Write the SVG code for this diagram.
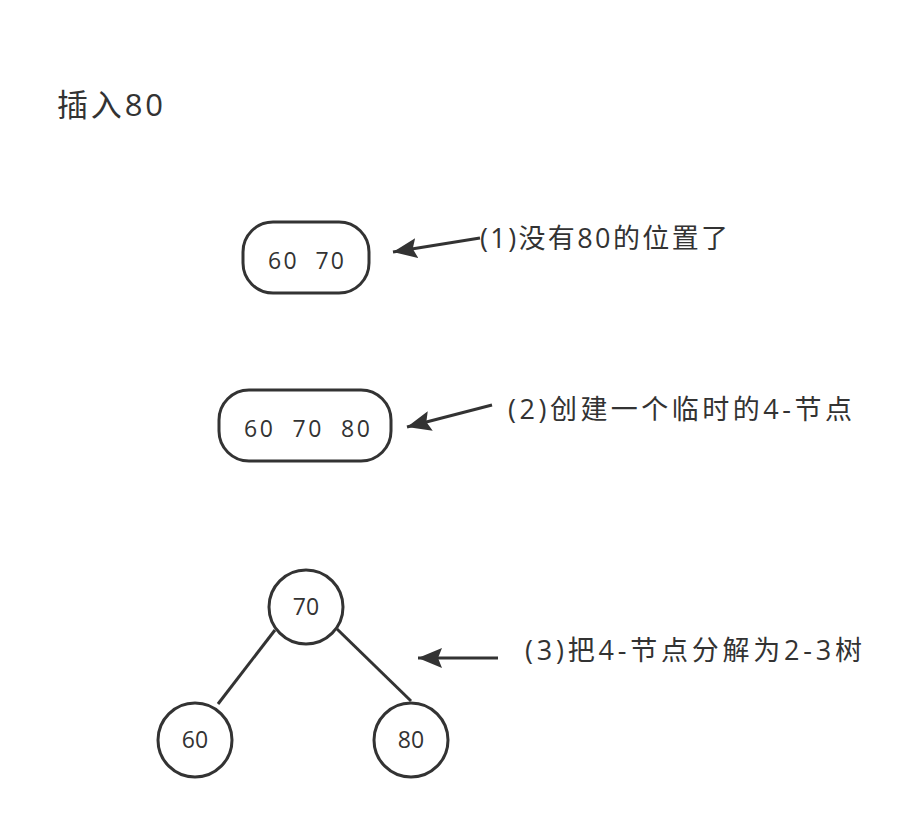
<svg xmlns="http://www.w3.org/2000/svg" width="923" height="825" viewBox="0 0 923 825">
<style>
text{font-family:"Open Sans","Noto Sans CJK SC",sans-serif;fill:#333;white-space:pre}
.n{fill:#fff;stroke:#333;stroke-width:3}
.t{font-size:23px;text-anchor:middle}
.l{font-size:27px}
.c{stroke:#333;stroke-width:3;fill:none}
</style>
<defs>
<marker id="a" viewBox="0 0 24 20" refX="24" refY="10" markerWidth="24" markerHeight="20" orient="auto" markerUnits="userSpaceOnUse">
<path d="M0,0 L24,10 L0,20 L4,10 Z" fill="#333"/>
</marker>
</defs>
<rect width="923" height="825" fill="#fff"/>
<text x="57" y="116" style="font-size:31px" textLength="106" lengthAdjust="spacing">插入80</text>
<g id="connectors">
<line class="c" x1="480" y1="238" x2="393" y2="252" marker-end="url(#a)"/>
<line class="c" x1="492" y1="405" x2="407" y2="427" marker-end="url(#a)"/>
<line class="c" x1="498" y1="658" x2="418" y2="658" marker-end="url(#a)"/>
<line class="c" x1="275" y1="630" x2="218" y2="704"/>
<line class="c" x1="337" y1="629" x2="411" y2="701"/>
</g>
<g id="node1">
<rect class="n" x="243" y="222" width="126" height="71" rx="30"/>
<text class="t" x="306" y="269" textLength="76" lengthAdjust="spacing">60  70</text>
</g>
<g id="node2">
<rect class="n" x="219" y="390" width="172" height="71" rx="30"/>
<text class="t" x="307" y="437" textLength="126" lengthAdjust="spacing">60  70  80</text>
</g>
<g id="node70">
<ellipse class="n" cx="306" cy="607" rx="37" ry="37"/>
<text class="t" x="306" y="615">70</text>
</g>
<g id="node60">
<ellipse class="n" cx="195" cy="740" rx="37" ry="37"/>
<text class="t" x="195" y="748">60</text>
</g>
<g id="node80">
<ellipse class="n" cx="411" cy="740" rx="37" ry="37"/>
<text class="t" x="411" y="748">80</text>
</g>
<g id="labels">
<text class="l" x="480" y="248" textLength="248" lengthAdjust="spacing">(1)没有80的位置了</text>
<text class="l" x="508" y="419" textLength="344" lengthAdjust="spacing">(2)创建一个临时的4-节点</text>
<text class="l" x="525" y="660" textLength="337" lengthAdjust="spacing">(3)把4-节点分解为2-3树</text>
</g>
</svg>
